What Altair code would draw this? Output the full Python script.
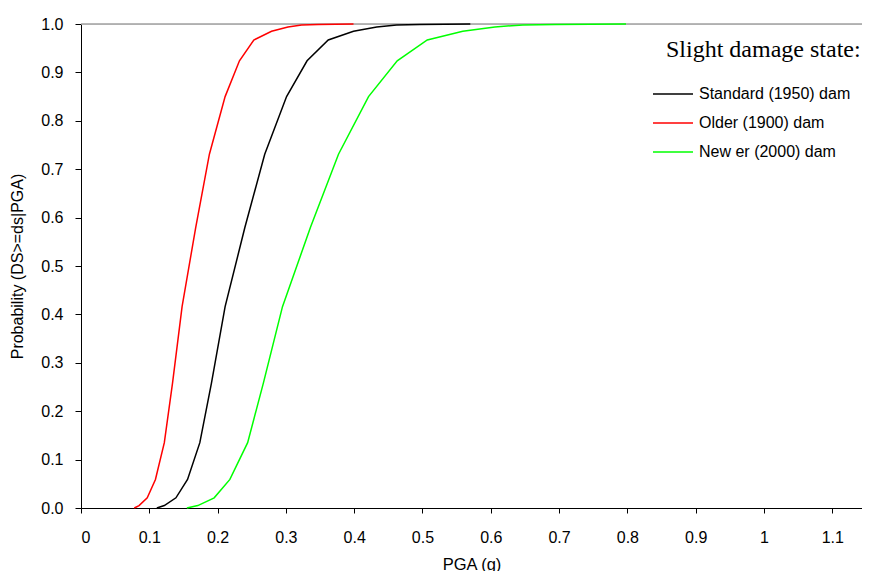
import altair as alt
import pandas as pd

series_names = ["Standard (1950) dam", "Older (1900) dam", "New er (2000) dam"]
series_colors = ["#000000", "#ff0000", "#00ff00"]
legend_title = ["Slight damage state:"]

prob = [0.0, 0.005, 0.021, 0.059, 0.135, 0.258, 0.416, 0.58, 0.731, 0.850,
        0.924, 0.967, 0.985, 0.994, 0.998, 0.999, 1.0]
pga_standard = [0.111, 0.122, 0.139, 0.156, 0.174, 0.191, 0.211, 0.240, 0.269, 0.301,
                0.331, 0.362, 0.399, 0.433, 0.462, 0.496, 0.570]
pga_older = [0.078, 0.085, 0.097, 0.109, 0.122, 0.134, 0.148, 0.168, 0.188, 0.211,
             0.232, 0.253, 0.279, 0.303, 0.323, 0.347, 0.399]
pga_newer = [0.155, 0.171, 0.195, 0.218, 0.244, 0.267, 0.295, 0.336, 0.377, 0.421,
             0.463, 0.507, 0.559, 0.606, 0.647, 0.694, 0.798]

x_ticks = [0, 0.1, 0.2, 0.3, 0.4, 0.5, 0.6, 0.7, 0.8, 0.9, 1.0, 1.1]
y_ticks = [0.0, 0.1, 0.2, 0.3, 0.4, 0.5, 0.6, 0.7, 0.8, 0.9, 1.0]
x_max = 1.1435

rows = []
for name, xs in zip(series_names, [pga_standard, pga_older, pga_newer]):
    for i, (x, p) in enumerate(zip(xs, prob)):
        rows.append({"series": name, "pga": x, "p": p, "order": i})
df = pd.DataFrame(rows)

FONT = "Liberation Sans"
xscale = alt.Scale(domain=[0, x_max], nice=False, zero=False)
yscale = alt.Scale(domain=[0, 1], nice=False)

y_axis = alt.Axis(values=y_ticks, format=".1f", grid=False, domainColor="black",
                  tickColor="black", tickSize=6, labelPadding=12,
                  labelFont=FONT, labelFontSize=16, labelColor="black",
                  titleFont=FONT, titleFontSize=16, titleFontWeight="normal",
                  titleColor="black", titlePadding=15)
x_axis = alt.Axis(values=x_ticks, format="~g", grid=False, domainColor="black",
                  tickColor="black", tickSize=5, labelPadding=16,
                  labelFont=FONT, labelFontSize=16, labelColor="black",
                  titleFont=FONT, titleFontSize=16.5, titleFontWeight="normal",
                  titleColor="black", titlePadding=11)

top = alt.Chart(pd.DataFrame({"y": [1.0]})).mark_rule(
    color="#a0a0a0", strokeWidth=1.5
).encode(y=alt.Y("y:Q", scale=yscale, axis=y_axis, title="Probability (DS>=ds|PGA)"))

lines = alt.Chart(df).mark_line(strokeWidth=1.5).encode(
    x=alt.X("pga:Q", scale=xscale, title="PGA (g)", axis=x_axis),
    y=alt.Y("p:Q", scale=yscale, title="Probability (DS>=ds|PGA)", axis=y_axis),
    color=alt.Color("series:N", scale=alt.Scale(domain=series_names, range=series_colors),
                    sort=series_names,
                    legend=alt.Legend(orient="none", legendX=571, legendY=49, title=None,
                                      padding=0,
                                      labelFont=FONT, labelFontSize=16,
                                      labelColor="black", symbolType="stroke", symbolSize=1600,
                                      symbolStrokeWidth=1.5, rowPadding=-13.5, labelOffset=5)),
    order="order:Q",
)

heading = alt.Chart(pd.DataFrame({"label": legend_title})).mark_text(
    align="right", baseline="alphabetic", font="Liberation Serif", fontSize=24,
    color="black"
).encode(x=alt.datum(1.1415), y=alt.datum(0.932), text="label:N")

chart = alt.layer(top, lines, heading).properties(
    width=781, height=484,
    autosize=alt.AutoSizeParams(type="none"),
    padding={"left": 73, "top": 16, "right": 0, "bottom": 63},
).configure_view(stroke=None).configure(background="white")

chart.save("out.html", embed_options={"renderer": "svg", "actions": False})
